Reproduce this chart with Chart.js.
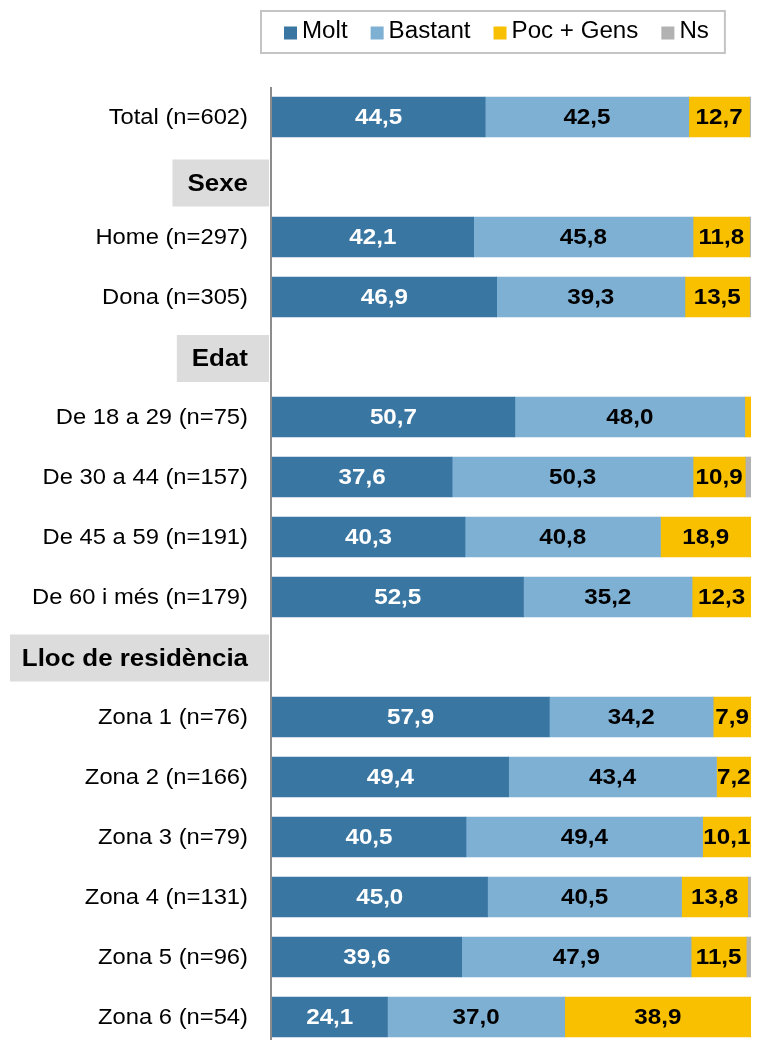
<!DOCTYPE html>
<html>
<head>
<meta charset="utf-8">
<script src="https://cdn.jsdelivr.net/npm/chart.js@4"></script>
<style>
  html, body { margin: 0; padding: 0; background: #fff; overflow: hidden; }
  canvas { display: block; }
</style>
</head>
<body>
<canvas id="myChart" width="757" height="1047"></canvas>
<script>
const categories = [
  "Total (n=602)", "Sexe", "Home (n=297)", "Dona (n=305)",
  "Edat", "De 18 a 29 (n=75)", "De 30 a 44 (n=157)", "De 45 a 59 (n=191)", "De 60 i més (n=179)",
  "Lloc de residència", "Zona 1 (n=76)", "Zona 2 (n=166)", "Zona 3 (n=79)",
  "Zona 4 (n=131)", "Zona 5 (n=96)", "Zona 6 (n=54)"
];
const headers = ["Sexe", "Edat", "Lloc de residència"];

const molt =    [44.5, null, 42.1, 46.9, null, 50.7, 37.6, 40.3, 52.5, null, 57.9, 49.4, 40.5, 45.0, 39.6, 24.1];
const bastant = [42.5, null, 45.8, 39.3, null, 48.0, 50.3, 40.8, 35.2, null, 34.2, 43.4, 49.4, 40.5, 47.9, 37.0];
const pocGens = [12.7, null, 11.8, 13.5, null, 1.3, 10.9, 18.9, 12.3, null, 7.9, 7.2, 10.1, 13.8, 11.5, 38.9];
const ns =      [0.3, null, 0.3, 0.3, null, 0, 1.2, 0, 0, null, 0, 0, 0, 0.7, 1.0, 0];

const seriesNames = ["Molt", "Bastant", "Poc + Gens", "Ns"];
const colors = ["#3a76a2", "#7eb0d4", "#f9c000", "#b2b2b2"];

const FONT = '"Liberation Sans", Arial, sans-serif';

function txt(ctx, s, x, y, font, color, align, sx) {
  ctx.save();
  ctx.font = font;
  ctx.fillStyle = color;
  ctx.textBaseline = "middle";
  ctx.textAlign = align;
  ctx.translate(x, y);
  ctx.scale(sx, 1);
  ctx.fillText(s, 0, 0);
  ctx.restore();
}
function txtWidth(ctx, s, font, sx) {
  ctx.save();
  ctx.font = font;
  const w = ctx.measureText(s).width * sx;
  ctx.restore();
  return w;
}

// etiquetes, capçaleres, valors i llegenda
const drawExtras = {
  id: "drawExtras",
  afterDraw(chart) {
    const ctx = chart.ctx;
    const area = chart.chartArea;
    const yScale = chart.scales.y;

    // eix vertical
    ctx.save();
    ctx.strokeStyle = "#8c8c8c";
    ctx.lineWidth = 2;
    ctx.beginPath();
    ctx.moveTo(area.left - 1, area.top);
    ctx.lineTo(area.left - 1, chart.height);
    ctx.stroke();
    ctx.restore();

    // etiquetes de categoria
    const headerShift = { "Sexe": 6, "Edat": 1.5, "Lloc de residència": 1 };
    categories.forEach((cat, i) => {
      const y = yScale.getPixelForTick(i);
      if (headers.includes(cat)) {
        const font = "bold 24px " + FONT;
        const w = txtWidth(ctx, cat, font, 1.08);
        const yy = y + headerShift[cat];
        const left = Math.max(10, 248 - w - 15);
        ctx.fillStyle = "#dcdcdc";
        ctx.fillRect(left, yy - 23.5, 269 - left, 47);
        txt(ctx, cat, 248, yy + 1, font, "#000", "right", 1.08);
      } else {
        txt(ctx, cat, 248, y + 1, "22px " + FONT, "#000", "right", 1.08);
      }
    });

    // valors dins les barres
    for (let d = 0; d < 3; d++) {
      const meta = chart.getDatasetMeta(d);
      meta.data.forEach((el, i) => {
        const v = chart.data.datasets[d].data[i];
        if (v == null || v < 5) return;
        const cx = (el.x + el.base) / 2;
        const label = v.toFixed(1).replace(".", ",");
        txt(ctx, label, cx, el.y + 1, "bold 22px " + FONT, d === 0 ? "#fff" : "#000", "center", 1.1);
      });
    }

    // llegenda
    const lf = "23px " + FONT;
    let x = 284;
    const ly = 33;
    chart.data.datasets.forEach((ds, i) => {
      ctx.fillStyle = ds.backgroundColor;
      ctx.fillRect(x, ly - 6.5, 13, 13);
      x += 18;
      txt(ctx, ds.label, x, ly - 1, lf, "#000", "left", 1.05);
      x += txtWidth(ctx, ds.label, lf, 1.05);
      if (i < chart.data.datasets.length - 1) x += 23;
    });
    ctx.save();
    ctx.strokeStyle = "#c4c4c4";
    ctx.lineWidth = 2;
    ctx.strokeRect(261, 11, x + 16 - 261, 42);
    ctx.restore();
  }
};

const graph = document.querySelector("#myChart");
const valors = [molt, bastant, pocGens, ns];

new Chart(graph, {
  type: "bar",
  data: {
    labels: categories,
    datasets: valors.map((serie, i) => ({
      label: seriesNames[i],
      data: serie,
      backgroundColor: colors[i],
      borderWidth: 0,
      barThickness: 40,
    })),
  },
  options: {
    indexAxis: "y",
    responsive: false,
    animation: false,
    layout: { padding: { top: 87, left: 272, right: 6, bottom: 0 } },
    scales: {
      x: { stacked: true, min: 0, max: 100, display: false },
      y: { stacked: true, display: false, offset: true },
    },
    plugins: {
      legend: { display: false },
      tooltip: { enabled: false },
    },
  },
  plugins: [drawExtras],
});
</script>
</body>
</html>
